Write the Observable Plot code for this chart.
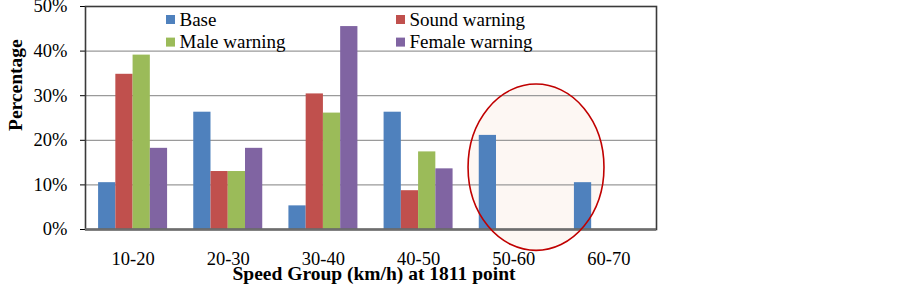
<!DOCTYPE html>
<html><head><meta charset="utf-8">
<script src="https://cdn.jsdelivr.net/npm/d3@7"></script>
<script src="https://cdn.jsdelivr.net/npm/@observablehq/plot@0.6"></script>
<style>
body{margin:0;background:#fff;}
#wrap{position:relative;width:903px;height:289px;}
#legend{position:absolute;left:0;top:0;}
</style></head><body><div id="wrap"></div>
<script>
// ---- data ----
const categories = ["10-20", "20-30", "30-40", "40-50", "50-60", "60-70"];
const seriesNames = ["Base", "Sound warning", "Male warning", "Female warning"];
const base   = [10.5, 26.3, 5.3, 26.3, 21.1, 10.5];
const sound  = [34.8, 13.0, 30.4, 8.7, 0, 0];
const male   = [39.1, 13.0, 26.1, 17.4, 0, 0];
const female = [18.2, 18.2, 45.5, 13.6, 0, 0];
const yTicks = [0, 10, 20, 30, 40, 50];
const xTitle = "Speed Group (km/h) at 1811 point";
const yTitle = "Percentage";
// highlight ellipse annotation (in category / value terms)
const highlightCategory = "50-60";
const highlightValueTop = 32.5;
const highlightValueBottom = -4.8;

// ---- styling / layout ----
const colors = ["#4f81bd", "#c0504d", "#9bbb59", "#8064a2"];
const W = 903, H = 289, ML = 85, MR = 247, MT = 6, MB = 60;
const FONT = "'Liberation Serif','Times New Roman',serif";

const seriesValues = [base, sound, male, female];
const band = d3.scaleBand(categories, [ML, W - MR]).paddingInner(0.275).paddingOuter(0.1375);
const bw = band.bandwidth();

const barMarks = seriesValues.map((vals, j) =>
  Plot.barY(categories.map((c, i) => ({category: c, value: vals[i], series: seriesNames[j]})), {
    x: "category", y: "value", fill: colors[j],
    insetLeft: j * bw / 4, insetRight: (3 - j) * bw / 4
  })
);

function ellipseLayer(part) {
  return function (index, scales) {
    const x = scales.x, y = scales.y;
    const cx = x(highlightCategory) + 0.83 * bw;
    const rx = 0.985 * bw;
    const yt = y(highlightValueTop), yb = y(highlightValueBottom);
    const g = d3.create("svg:g");
    const e = g.append("ellipse")
      .attr("cx", cx).attr("cy", (yt + yb) / 2)
      .attr("rx", rx).attr("ry", (yb - yt) / 2);
    if (part === "fill") e.attr("fill", "#f8e0d0").attr("fill-opacity", 0.25).attr("stroke", "none");
    else e.attr("fill", "none").attr("stroke", "#c00000").attr("stroke-width", 1.6);
    return g.node();
  };
}

const chart = Plot.plot({
  width: W, height: H,
  marginLeft: ML, marginRight: MR, marginTop: MT, marginBottom: MB,
  style: {fontFamily: FONT, fontSize: "18.5px", color: "#000", background: "#fff", overflow: "visible"},
  x: {domain: categories, paddingInner: 0.275, paddingOuter: 0.1375, round: false, label: null, tickSize: 0, tickPadding: 22},
  y: {domain: [0, 50], ticks: yTicks, tickFormat: d => d + "%", label: null, tickSize: 5, tickPadding: 13},
  marks: [
    ellipseLayer("fill"),
    Plot.ruleY(yTicks.slice(1), {stroke: "#9a9a9a", strokeWidth: 1.2}),
    ...barMarks,
    Plot.frame({stroke: "#3a3a3a", strokeWidth: 1.6}),
    Plot.ruleY([0], {stroke: "#6e6e6e", strokeWidth: 2.4}),
    ellipseLayer("stroke"),
    Plot.text([xTitle], {text: d => d, frameAnchor: "bottom", dx: 3, dy: 50, fontWeight: "bold", fontSize: 19.5}),
    Plot.text([yTitle], {text: d => d, frameAnchor: "left", rotate: -90, dx: -70, dy: 13, fontWeight: "bold", fontSize: 19.5})
  ]
});

const wrap = document.getElementById("wrap");
wrap.appendChild(chart);

// ---- legend (inside plot area, 2 columns) ----
const legendItems = [
  {name: seriesNames[0], color: colors[0], col: 0, row: 0},
  {name: seriesNames[2], color: colors[2], col: 0, row: 1},
  {name: seriesNames[1], color: colors[1], col: 1, row: 0},
  {name: seriesNames[3], color: colors[3], col: 1, row: 1}
];
const colX = [166, 396], rowY = [15, 37.6];
const leg = d3.select(wrap).append("svg").attr("id", "legend").attr("width", W).attr("height", 60)
  .style("font-family", FONT).style("font-size", "19px");
for (const it of legendItems) {
  leg.append("rect").attr("x", colX[it.col]).attr("y", rowY[it.row]).attr("width", 9).attr("height", 9).attr("fill", it.color);
  leg.append("text").attr("x", colX[it.col] + 13.5).attr("y", rowY[it.row] + 10.8).text(it.name);
}
</script></body></html>
